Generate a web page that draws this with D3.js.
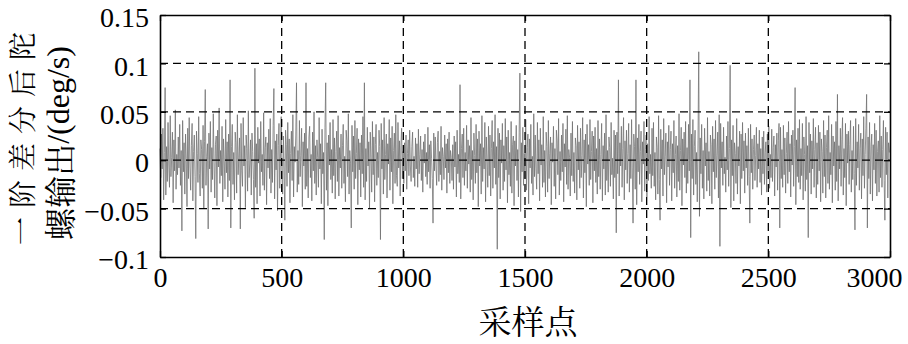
<!DOCTYPE html>
<html>
<head>
<meta charset="utf-8">
<script src="https://cdn.jsdelivr.net/npm/d3@7"></script>
<style>
  body { margin: 0; background: #fff; }
  svg { display: block; }
</style>
</head>
<body>
<div id="chart"></div>
<script>
// gyro output after 1st-order difference, in 0.001 deg/s, read every 3rd sample
const sampleStep = 3;
const gyroDiff = [
  12, -18, 27, -9, 33, -41, 8, 75, -36, 14, -22, 39, -5, -28, 46, -17, 3, 29, -44, 21, -11, 52, -30, 6, -15,
  24, -8, 37, -26, 10, -73, 41, -12, 18, -35, 27, 2, -48, 33, -19, 44, -6, -31, 15, 38, -42, 9, 26, -17, -81,
  30, 7, -23, 45, -14, -37, 21, 11, -29, 36, -50, 19, 73, -26, 4, 17, -71, 28, -9, 40, -33, 13, -20, 48, -2,
  -39, 16, 25, -47, 31, -7, 54, -24, 10, -16, 35, -43, 22, -1, -30, 42, -13, 19, -38, 27, -21, 83, -70, 14, 37,
  -25, 8, -41, 29, 18, -34, 47, -15, 3, 23, -71, 38, -11, -27, 44, -6, 15, -49, 26, 12, -32, 51, -18, -4, 21,
  -36, 28, 9, -20, -60, 95, -28, 17, -45, 34, -3, 22, -37, 40, -12, 6, -26, 49, -31, 13, 24, -46, 18, -8, 32,
  -19, 43, -34, 11, -23, 36, 74, -40, 20, -10, 27, -52, 15, 38, -29, 2, 45, -16, -35, 25, -7, -62, 31, 16, -27,
  39, -13, 22, -44, 7, 30, -21, 47, -38, 14, -2, 26, 80, -33, 10, -25, 41, -17, 5, 33, -48, 19, -6, 28, -30,
  80, -27, 12, -39, 24, 35, -18, 6, -42, 29, -11, 50, -24, 15, -36, 21, 3, -28, 44, -9, 17, -45, 32, -14, 8,
  -82, 34, 80, -31, 18, -47, 26, -5, 39, -20, 11, -34, 42, -16, 23, -40, 9, 30, -22, 46, -37, 13, -8, 27, -29,
  15, 37, -24, 4, -43, 31, 20, -17, 48, -35, 10, -3, -70, 36, -12, 25, -30, 41, -19, 7, 33, -46, 22, -10, 18,
  -38, 26, -14, 45, -28, 80, -41, 12, -22, 34, -6, 19, -50, 29, 3, -33, 40, -15, 24, -43, 16, 37, -26, 8, -18,
  31, 14, -82, 38, -9, 21, -35, 44, -20, 6, 27, -39, 17, -4, 42, -31, 23, -12, 35, -45, 10, 28, -24, 47, -16,
  -27, 39, -8, 20, -37, 15, 33, -19, 9, -24, 18, -11, 26, -30, 7, 21, -16, 31, -6, -22, 14, 29, -18, 4, -27,
  23, -9, 17, -28, 32, -14, 6, 25, -21, 11, -33, 19, -3, 27, -17, 8, -25, 34, -12, 16, -29, 20, 2, -19, -65,
  28, -11, 24, -5, -26, 18, 30, -22, 9, -15, 35, -31, 13, 4, -20, 26, -8, 17, -34, 22, -13, 29, -24, 10, 3,
  -21, 16, -30, 25, -7, 19, -38, 31, -14, 6, -23, 78, -40, 12, 27, -18, 33, -26, 8, -11, 36, -29, 21, -4, 15,
  -33, 44, -20, 10, -41, 28, 5, -24, 37, -13, 22, -48, 30, -6, 17, -35, 46, -22, 13, -9, 39, -43, 24, 1, -28,
  35, -16, 26, -37, 12, 41, -29, 19, -8, 47, -25, 14, -92, 33, -18, 28, -40, 21, -3, 38, -31, 15, -22, 43, -10,
  24, -44, 31, -15, 8, -27, 40, -34, 16, 25, -47, 20, -6, 36, -21, 11, -38, 29, 90, -53, 18, -12, 34, -26, 7,
  -19, 42, -31, 13, 27, -45, 22, -8, 37, -24, 4, -36, 48, -17, 26, -9, -30, 39, -14, 21, -42, 33, -5, 16, -28,
  45, -23, 10, -38, 29, 14, -33, 41, -19, 7, 24, -46, 18, -2, 35, -27, 12, -40, 31, 20, -15, 43, -36, 9, -21,
  26, -12, 38, -43, 17, -7, 32, -25, 46, -30, 11, 3, -37, 28, -16, 40, -22, 8, -34, 23, 15, -41, 36, -10, 19,
  -29, 33, -18, 5, 44, -39, 21, -13, 27, -48, 37, -4, 16, -26, 42, -20, 9, 30, -44, 25, -11, 34, -23, 12, -35,
  41, -17, 22, -30, 6, 38, -42, 15, -9, 28, -36, 47, -21, 10, -33, 24, 13, -27, 39, -15, 2, -40, 31, -18, 26,
  -75, 29, -14, 83, -37, 18, -6, 35, -28, 12, 44, -41, 20, -10, 31, -24, 7, 38, -33, 16, -19, 42, -8, -65, 27,
  14, -30, 83, -46, 23, -12, 37, -25, 9, 30, -43, 19, -4, 40, -32, 11, 26, -38, 17, -21, 45, -14, 6, -29, 33,
  -16, 39, -27, 8, -41, 24, 13, -35, 46, -20, -62, 32, -9, 21, -37, 43, -15, 4, 28, -44, 19, -7, 36, -26, 11,
  30, -42, 17, -13, 41, -29, 6, 25, -38, 15, -22, 48, -31, 10, 34, -47, 22, -5, 29, -18, 40, -34, 13, -24, 37,
  -11, 83, -80, 27, -19, 42, -36, 14, 31, -25, 8, -43, 20, 112, -58, 23, -14, 37, -29, 10, -40, 33, -6, 18, -32,
  44, -21, 9, -37, 26, 16, -45, 35, -12, 22, -30, 41, -18, 5, 29, -39, 47, -89, 38, -8, 19, -26, 34, -14, 3,
  -33, 25, -10, 40, -27, 12, 98, -49, 21, -16, 36, -42, 18, 7, -24, 43, -35, 14, -6, 30, -45, 27, -19, 39, -11,
  20, -34, 28, -8, 15, -26, 33, -17, -65, 37, -13, 22, -30, 11, 26, -21, 5, 34, -28, 17, -9, 31, -23, 12, -36,
  24, -14, 30, -25, 8, 19, -33, 27, -11, 35, -29, 6, -18, 32, -22, 13, 25, -37, 16, -7, 28, -31, 20, 38, -70,
  34, -19, 11, -28, 36, -15, 23, -34, 7, 29, -24, 40, -12, 17, -38, 26, -5, 31, -27, 14, 75, -46, 21, -17, 33,
  -23, 42, -30, 12, -16, 38, -41, 24, 6, -32, 45, -20, 15, -80, 39, -13, 27, -35, 20, -9, 43, -28, 11, 34, -39,
  18, -25, 36, -11, 29, -43, 22, 9, -34, 41, -17, 26, -39, 13, 31, -24, 46, -30, 8, -15, 37, -44, 25, -6, 19,
  -31, 40, -22, 68, -42, 15, -9, 33, -27, 21, 44, -36, 12, -18, 38, -47, 27, -3, 30, -25, 16, 41, -33, 10, -20,
  35, -14, -72, 43, -26, 19, -8, 37, -31, 12, 28, -40, 22, -16, 45, -29, 6, 33, 68, -70, 24, -19, 39, -35, 14,
  27, -42, 16, -10, 38, -24, 31, -37, 9, 20, -33, 46, -18, 25, -28, 11, 41, -21, -62, 34, -15, 29, -39, 18, 8
];

const xTicks = [0, 500, 1000, 1500, 2000, 2500, 3000];
const xTickLabels = ['0', '500', '1000', '1500', '2000', '2500', '3000'];
const yTicks = [-100, -50, 0, 50, 100, 150];
const yTickLabels = ['\u22120.1', '\u22120.05', '0', '0.05', '0.1', '0.15'];
const xTitle = '采样点';
const yTitle = ['一阶差分后陀', '螺输出', '/(deg/s)'];

const width = 908, height = 344;
const margin = { top: 15, right: 18, bottom: 87, left: 160 };
// one family per text, the renderer does not walk a fallback list well
const latinFont = '"Liberation Serif"';
const cjkFont = '"Noto Serif CJK SC"';

const svg = d3.select('#chart').append('svg')
  .attr('width', width)
  .attr('height', height)
  .style('background', '#fff');

const xScale = d3.scaleLinear()
  .domain([0, 3000])
  .range([margin.left, width - margin.right]);

const yScale = d3.scaleLinear()
  .domain([-100, 150])
  .range([height - margin.bottom, margin.top]);

const [x0, x1] = xScale.range();
const [y0, y1] = yScale.range();

// signal
const line = d3.line()
  .x((d, i) => xScale(i * sampleStep))
  .y(d => yScale(d));

svg.append('path')
  .datum(gyroDiff)
  .attr('d', line)
  .attr('fill', 'none')
  .attr('stroke', '#6e6e6e')
  .attr('stroke-width', 0.75);

// dashed grid
const grid = svg.append('g')
  .attr('stroke', '#000')
  .attr('stroke-width', 1.3)
  .attr('stroke-dasharray', '8,5');

grid.selectAll('.vgrid')
  .data(xTicks.slice(1, -1))
  .join('line')
  .attr('x1', d => xScale(d)).attr('x2', d => xScale(d))
  .attr('y1', y1).attr('y2', y0);

grid.selectAll('.hgrid')
  .data(yTicks.slice(1, -1))
  .join('line')
  .attr('x1', x0).attr('x2', x1)
  .attr('y1', d => yScale(d)).attr('y2', d => yScale(d));

// axes, ticks point inward
const styleAxis = g => g
  .call(g => g.select('.domain').attr('stroke-width', 1.6))
  .call(g => g.selectAll('.tick line').attr('stroke-width', 1.3))
  .call(g => g.selectAll('.tick text')
    .attr('fill', '#000')
    .style('font-family', latinFont)
    .style('font-size', '28px'));

svg.append('g')
  .attr('transform', `translate(0,${y0})`)
  .call(d3.axisBottom(xScale).tickValues(xTicks).tickFormat((d, i) => xTickLabels[i])
    .tickSize(-6).tickSizeOuter(0).tickPadding(10))
  .call(styleAxis)
  // last label kept inside the figure, as in the source
  .call(g => g.selectAll('.tick text').filter(d => d === xTicks[xTicks.length - 1])
    .attr('text-anchor', 'end')
    .attr('x', 12));

svg.append('g')
  .attr('transform', `translate(0,${y1})`)
  .call(d3.axisTop(xScale).tickValues(xTicks).tickFormat('').tickSize(-6).tickSizeOuter(0))
  .call(styleAxis);

svg.append('g')
  .attr('transform', `translate(${x0},0)`)
  .call(d3.axisLeft(yScale).tickValues(yTicks).tickFormat((d, i) => yTickLabels[i])
    .tickSize(-6).tickSizeOuter(0).tickPadding(11))
  .call(styleAxis)
  .call(g => g.selectAll('.tick text').attr('dy', '0.42em'));

svg.append('g')
  .attr('transform', `translate(${x1},0)`)
  .call(d3.axisRight(yScale).tickValues(yTicks).tickFormat('').tickSize(-6).tickSizeOuter(0))
  .call(styleAxis);

// titles
svg.append('text')
  .attr('x', 528)
  .attr('y', 334)
  .attr('text-anchor', 'middle')
  .style('font-family', cjkFont)
  .style('font-size', '33px')
  .text(xTitle);

svg.append('text')
  .attr('transform', 'translate(21,134) rotate(-90)')
  .attr('text-anchor', 'middle')
  .attr('dominant-baseline', 'central')
  .style('font-family', cjkFont)
  .style('font-size', '28px')
  .style('letter-spacing', '9px')
  .text(yTitle[0]);

const yTitle2 = svg.append('text')
  .attr('transform', 'translate(58,143) rotate(-90)')
  .attr('text-anchor', 'middle')
  .attr('dominant-baseline', 'central')
  .style('font-size', '32px');

yTitle2.append('tspan').style('font-family', cjkFont).text(yTitle[1]);
yTitle2.append('tspan').style('font-family', latinFont).text(yTitle[2]);
</script>
</body>
</html>
